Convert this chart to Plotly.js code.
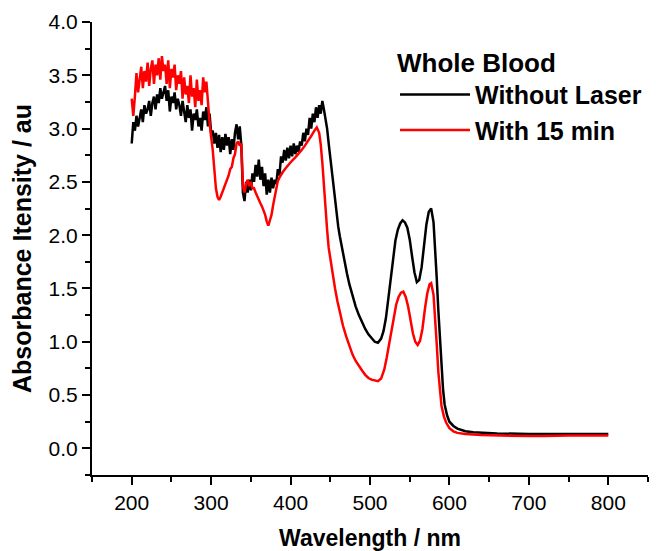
<!DOCTYPE html>
<html>
<head>
<meta charset="utf-8">
<script src="https://cdn.plot.ly/plotly-3.0.1.min.js"></script>
<style>html,body{margin:0;padding:0;background:#fff;}#chart{width:656px;height:551px;}</style>
</head>
<body>
<div id="chart"></div>
<script>
// Wavelength (nm) and absorbance
const blackX = [200,202,204,206,208,210,212,214,216,218,220,222,224,226,228,230,232,234,236,238,240,242,244,246,248,250,252,254,256,258,260,262,264,266,268,270,272,274,276,278,280,282,284,286,288,290,292,294,296,298,300,
302,304,306,308,310,312,314,316,318,320,322,324,326,328,330,332,334,336,338,340,342,344,346,348,350,352,354,356,358,360,362,364,366,368,370,372,374,376,378,380,382,384,386,388,390,392,394,396,398,400,402,404,406,408,410,412,414,416,418,420,422,424,426,428,430,432,434,436,438,440,442,444,446,
448,450,452,454,456,458,460,462,465,468,471,474,478,482,486,490,494,498,502,506,510,514,517,520,523,526,529,532,535,538,541,544,547,550,553,556,559,562,565,568,571,574,577,580,582,584,586,588,590,592,594,597,600,605,610,615,620,630,640,660,700,750,800];
const blackY = [2.86,3.06,2.98,3.12,3.02,3.10,3.18,3.06,3.22,3.14,3.18,3.26,3.12,3.24,3.30,3.18,3.32,3.24,3.38,3.28,3.34,3.40,3.26,3.36,3.16,3.30,3.24,3.34,3.18,3.28,3.22,3.12,3.26,3.16,3.06,3.22,3.10,3.18,2.98,3.14,3.08,3.18,3.02,3.10,2.98,3.16,3.08,3.20,3.02,3.14,2.96,
2.98,2.86,2.96,2.82,2.94,2.78,2.92,2.80,2.95,2.84,2.92,2.76,2.90,2.80,2.96,3.04,2.90,3.02,2.84,2.40,2.32,2.50,2.40,2.52,2.42,2.58,2.50,2.66,2.55,2.71,2.52,2.64,2.46,2.58,2.38,2.52,2.40,2.54,2.44,2.52,2.48,2.62,2.56,2.74,2.68,2.80,2.70,2.82,2.72,2.84,2.74,2.86,2.76,2.84,2.78,2.88,2.84,2.96,2.88,3.00,2.94,3.10,3.00,3.14,3.06,3.20,3.10,3.22,3.14,3.26,3.18,3.10,3.00,
2.86,2.72,2.60,2.48,2.34,2.20,2.08,1.99,1.86,1.75,1.64,1.54,1.43,1.33,1.25,1.18,1.12,1.07,1.03,1.00,0.99,1.03,1.10,1.22,1.40,1.60,1.80,1.95,2.05,2.11,2.14,2.12,2.07,1.96,1.80,1.65,1.56,1.58,1.70,1.90,2.10,2.22,2.25,2.12,1.90,1.60,1.30,1.02,0.75,0.55,0.41,0.31,0.25,0.21,0.185,0.17,0.16,0.15,0.145,0.14,0.135,0.135,0.135];

const redX = [200,202,204,206,208,210,212,214,216,218,220,222,224,226,228,230,232,234,236,238,240,242,244,246,248,250,252,254,256,258,260,262,264,266,268,270,272,274,276,278,280,282,284,286,288,290,292,294,296,298,300,302,304,306,308,310,312,314,316,318,320,322,324,326,328,330,332,334,336,338,340,342,344,346,348,350,352,354,356,358,360,362,364,366,368,370,372,374,376,378,380,382,384,386,388,390,394,398,402,406,410,414,418,422,426,430,433,436,438,440,442,444,446,448,450,453,456,459,462,466,470,474,478,482,486,490,494,498,502,506,510,514,518,521,524,527,530,533,536,539,542,545,548,551,554,557,560,563,566,569,572,575,577,580,582,584,586,588,590,593,596,600,605,610,620,640,660,680,700,720,750,800];
const redY = [3.28,3.12,3.30,3.52,3.34,3.46,3.58,3.38,3.54,3.44,3.62,3.40,3.56,3.64,3.42,3.60,3.50,3.66,3.46,3.68,3.54,3.60,3.42,3.64,3.38,3.56,3.48,3.60,3.36,3.50,3.42,3.54,3.28,3.48,3.32,3.40,3.24,3.50,3.30,3.38,3.20,3.46,3.26,3.36,3.22,3.48,3.34,3.44,3.22,3.06,2.92,2.80,2.62,2.44,2.36,2.33,2.36,2.40,2.44,2.47,2.52,2.56,2.62,2.64,2.72,2.76,2.86,2.88,2.84,2.86,2.46,2.40,2.48,2.52,2.46,2.50,2.44,2.44,2.40,2.36,2.34,2.30,2.27,2.23,2.19,2.13,2.09,2.14,2.19,2.28,2.37,2.45,2.51,2.54,2.57,2.59,2.63,2.67,2.70,2.73,2.76,2.80,2.84,2.88,2.93,2.98,3.01,2.96,2.85,2.68,2.45,2.25,2.05,1.88,1.78,1.62,1.50,1.38,1.27,1.15,1.05,0.96,0.88,0.82,0.77,0.73,0.69,0.66,0.645,0.635,0.63,0.655,0.74,0.85,0.98,1.11,1.24,1.35,1.42,1.46,1.47,1.42,1.33,1.20,1.08,1.00,0.97,1.01,1.12,1.30,1.45,1.54,1.55,1.44,1.25,0.98,0.72,0.52,0.40,0.30,0.24,0.19,0.16,0.145,0.135,0.125,0.12,0.115,0.115,0.115,0.12,0.12];

const seriesNames = ['Without Laser', 'With 15 min'];
const legendTitle = 'Whole Blood';
const xTickVals = [200,300,400,500,600,700,800];
const yTickVals = [0.0,0.5,1.0,1.5,2.0,2.5,3.0,3.5,4.0];

const FONT = 'Arial, "Liberation Sans", sans-serif';
const traces = [
  {x: blackX, y: blackY, type: 'scatter', mode: 'lines', name: '<b>' + seriesNames[0] + '</b>',
   line: {color: '#000000', width: 2.5}},
  {x: redX, y: redY, type: 'scatter', mode: 'lines', name: '<b>' + seriesNames[1] + '</b>',
   line: {color: '#ff0000', width: 2.5}}
];
const axisCommon = {
  showline: true, linecolor: '#000', linewidth: 2, mirror: false,
  showgrid: false, zeroline: false,
  ticks: 'outside', ticklen: 8, tickwidth: 2, tickcolor: '#000',
  tickfont: {family: FONT, size: 21, color: '#000'}
};
const layout = {
  width: 656, height: 551,
  margin: {l: 92, r: 8, t: 22, b: 76},
  paper_bgcolor: '#fff', plot_bgcolor: '#fff',
  showlegend: true,
  legend: {
    x: 0.545, y: 0.965, xanchor: 'left', yanchor: 'top',
    bgcolor: 'rgba(0,0,0,0)', borderwidth: 0,
    itemwidth: 70, tracegroupgap: 0,
    title: {text: '<b>' + legendTitle + '</b>', font: {family: FONT, size: 26, color: '#000'}},
    font: {family: FONT, size: 25, color: '#000'}
  },
  xaxis: Object.assign({}, axisCommon, {
    range: [150, 850], tickvals: xTickVals, ticktext: xTickVals.map(String),
    minor: {dtick: 50, tick0: 0, ticks: 'outside', ticklen: 5, tickwidth: 2, tickcolor: '#000'},
    title: {text: '<b>Wavelength / nm</b>', font: {family: FONT, size: 23, color: '#000'}, standoff: 20}
  }),
  yaxis: Object.assign({}, axisCommon, {
    range: [-0.25, 4.0], tickvals: yTickVals, tickformat: '.1f',
    minor: {dtick: 0.25, tick0: 0, ticks: 'outside', ticklen: 5, tickwidth: 2, tickcolor: '#000'},
    title: {text: '<b>Absorbance Itensity / au</b>', font: {family: FONT, size: 25, color: '#000'}, standoff: 10}
  })
};
Plotly.newPlot('chart', traces, layout, {displayModeBar: false, staticPlot: true});
</script>
</body>
</html>
